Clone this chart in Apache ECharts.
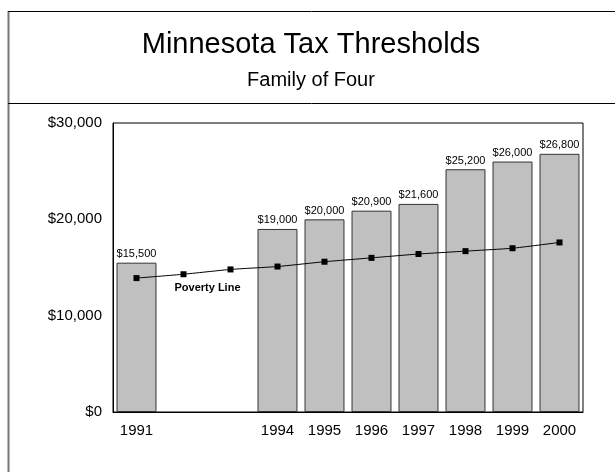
<!DOCTYPE html>
<html>
<head>
<meta charset="utf-8">
<script src="https://cdn.jsdelivr.net/npm/echarts@6/dist/echarts.min.js"></script>
<style>
html,body{margin:0;padding:0;background:#fff;}
#chart{width:615px;height:472px;}
</style>
</head>
<body>
<div id="chart"></div>
<script>
var years = ['1991','1992','1993','1994','1995','1996','1997','1998','1999','2000'];
var yearLabels = ['1991','','','1994','1995','1996','1997','1998','1999','2000'];
var thresholds = [15500, null, null, 19000, 20000, 20900, 21600, 25200, 26000, 26800];
var povertyLine = [13900, 14300, 14800, 15100, 15600, 16000, 16400, 16700, 17000, 17600];
var yTicks = [0, 10000, 20000, 30000];
var titleText = 'Minnesota Tax Thresholds';
var subtitleText = 'Family of Four';
var lineLabel = 'Poverty Line';

function money(v){ return '$' + v.toString().replace(/\B(?=(\d{3})+(?!\d))/g, ','); }

var FONT = "'Liberation Sans', Arial, sans-serif";
var chart = echarts.init(document.getElementById('chart'), null, {renderer:'canvas'});

var povData = povertyLine.map(function(v, i){
  if (i === 1) {
    return {value: v, label: {show: true, formatter: lineLabel, position: 'bottom', offset: [24, 0],
      fontFamily: FONT, fontSize: 11, fontWeight: 'bold', color: '#000'}};
  }
  return v;
});

chart.setOption({
  animation: false,
  backgroundColor: '#fff',
  textStyle: {fontFamily: FONT},
  graphic: [
    {type: 'line', shape: {x1: 8.5, y1: 11, x2: 8.5, y2: 472}, style: {stroke: '#777', lineWidth: 2}},
    {type: 'line', shape: {x1: 8, y1: 11.5, x2: 615, y2: 11.5}, style: {stroke: '#000', lineWidth: 1}},
    {type: 'line', shape: {x1: 8, y1: 103.5, x2: 615, y2: 103.5}, style: {stroke: '#000', lineWidth: 1}},
    {type: 'text', x: 311, y: 45, style: {text: titleText, fontFamily: FONT, fontSize: 29, fill: '#000', textAlign: 'center', textVerticalAlign: 'middle'}},
    {type: 'text', x: 311, y: 80, style: {text: subtitleText, fontFamily: FONT, fontSize: 20, fill: '#000', textAlign: 'center', textVerticalAlign: 'middle'}}
  ],
  grid: {left: 113, right: 32, top: 123, bottom: 60, show: true, borderColor: '#000', borderWidth: 1, backgroundColor: 'transparent'},
  xAxis: {
    type: 'category', data: years,
    axisLine: {show: true, lineStyle: {color: '#000', width: 1}},
    axisTick: {show: false},
    axisLabel: {color: '#000', fontSize: 15, fontFamily: FONT, margin: 11, interval: 0,
      formatter: function(v, i){ return yearLabels[i]; }}
  },
  yAxis: {
    type: 'value', min: yTicks[0], max: yTicks[yTicks.length-1], interval: yTicks[1]-yTicks[0],
    axisLine: {show: true, lineStyle: {color: '#000', width: 1}},
    axisTick: {show: false},
    splitLine: {show: false},
    axisLabel: {color: '#000', fontSize: 15, fontFamily: FONT, margin: 11, formatter: money}
  },
  series: [
    {
      type: 'bar', data: thresholds, barCategoryGap: '15%',
      itemStyle: {color: '#c0c0c0', borderColor: '#333', borderWidth: 1},
      label: {show: true, position: 'top', distance: 3, color: '#000', fontSize: 11, fontFamily: FONT,
        formatter: function(p){ return money(p.value); }}
    },
    {
      type: 'line', data: povData, smooth: 0.15,
      symbol: 'rect', symbolSize: 6, showAllSymbol: true,
      lineStyle: {color: '#000', width: 1},
      itemStyle: {color: '#000'},
      label: {show: false}
    }
  ]
});
</script>
</body>
</html>
